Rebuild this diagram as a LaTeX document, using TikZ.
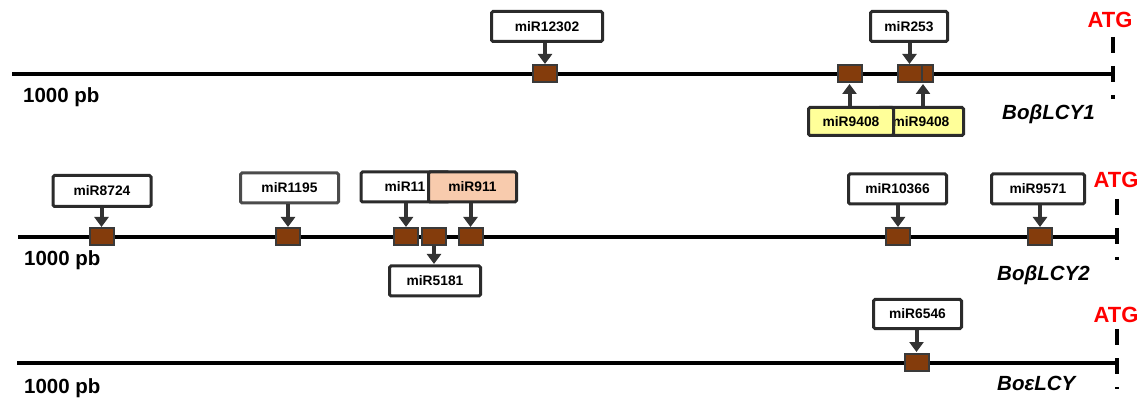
\documentclass[tikz,border=0pt]{standalone}
\usepackage{fontspec}
\setmainfont{Liberation Sans}
\usetikzlibrary{arrows.meta}
\definecolor{brn}{HTML}{843C0C}
\definecolor{bordc}{HTML}{2B2B2B}
\definecolor{sqborder}{HTML}{3A3A3A}
\definecolor{yel}{HTML}{FFFF99}
\definecolor{peach}{HTML}{F8CBAD}
\definecolor{arrc}{HTML}{333333}
\begin{document}
\begin{tikzpicture}[x=1pt,y=-1pt,
  mbox/.style={draw=bordc, line width=3pt, rounded corners=1.5pt, fill=white,
    minimum height=30pt, inner sep=0pt,
    font=\fontsize{13.8}{16}\selectfont\bfseries, text=black},
  ybox/.style={mbox, fill=yel},
  pbox/.style={mbox, fill=peach},
  sq/.style={draw=sqborder, line width=2pt, fill=brn, minimum width=24pt,
    minimum height=17pt, inner sep=0pt},
  arr/.style={draw=arrc, line width=4pt, -{Triangle[width=14pt,length=10pt]}, shorten >=0.5pt},
  dna/.style={line width=4pt, black},
  atgline/.style={line width=4pt, black, dash pattern=on 16pt off 13pt},
  scalelbl/.style={font=\fontsize{20.5}{24}\selectfont\bfseries, inner sep=0pt, anchor=base west},
  atg/.style={font=\fontsize{22}{26}\selectfont\bfseries, text=red, inner sep=0pt, anchor=base},
  gene/.style={font=\fontsize{20.5}{24}\selectfont\bfseries\itshape, inner sep=0pt, anchor=base west}
]
\useasboundingbox (0,0) rectangle (1144,398);

% ---------- Row 1: BoBLCY1 ----------
\coordinate (a1) at (12,74);
\coordinate (b1) at (1112.5,74);
\coordinate (t1) at (1112.5,37);
\coordinate (u1) at (1112.5,99.5);
\draw[dna] (a1) -- (b1);
\draw[atgline] (t1) -- (u1);

\node[sq] (s1a) at (545,74) {};
\node[sq] (s1b) at (849.5,74) {};
\node[sq] (s1d) at (921,74) {};
\node[sq] (s1c) at (909.5,74) {};

\node[mbox, minimum width=111pt] (m12302) at (547,26.5) {miR12302};
\node[mbox, minimum width=77pt] (m253) at (909,26.5) {miR253};
\node[ybox, minimum width=85pt, minimum height=28pt] (m9408b) at (921,121.5) {miR9408};
\node[ybox, minimum width=85pt, minimum height=28pt] (m9408a) at (851,121.5) {miR9408};

\draw[arr] (s1a.north |- m12302.south) -- (s1a.north);
\draw[arr] (s1c.north |- m253.south) -- (s1c.north);
\draw[arr] (s1b.south |- m9408a.north) -- (s1b.south);
\draw[arr] ([xshift=2pt]s1d.south |- m9408b.north) -- ([xshift=2pt]s1d.south);

\node[scalelbl] (pb1) at (23,103) {1000 pb};
\node[atg] (atg1) at (1110,28) {ATG};
\node[gene] (g1) at (1002,120) {Bo\char"03B2 LCY1};

% ---------- Row 2: BoBLCY2 ----------
\coordinate (a2) at (18,237);
\coordinate (b2) at (1117,237);
\coordinate (t2) at (1117,199);
\coordinate (u2) at (1117,260);
\draw[dna] (a2) -- (b2);
\draw[atgline] (t2) -- (u2);

\node[sq] (s2a) at (101.5,237) {};
\node[sq] (s2b) at (288,237) {};
\node[sq] (s2c) at (406,237) {};
\node[sq] (s2d) at (434,237) {};
\node[sq] (s2e) at (470.5,237) {};
\node[sq] (s2f) at (898,237) {};
\node[sq] (s2g) at (1040,237) {};

\node[mbox, minimum width=98pt, minimum height=31pt] (m8724) at (102,191) {miR8724};
\node[mbox, minimum width=98pt, draw=bordc!85] (m1195) at (289.5,188) {miR1195};
\node[mbox, minimum width=88pt] (m11) at (405,187) {miR11\hspace{6pt}};
\node[pbox, minimum width=88pt] (m911) at (472.5,187) {miR911};
\node[mbox, minimum width=98pt] (m10366) at (897.5,189) {miR10366};
\node[mbox, minimum width=93pt] (m9571) at (1038,189) {miR9571};
\node[mbox, minimum width=91pt] (m5181) at (435,281) {miR5181};

\draw[arr] (s2a.north |- m8724.south) -- (s2a.north);
\draw[arr] (s2b.north |- m1195.south) -- (s2b.north);
\draw[arr] (s2c.north |- m11.south) -- (s2c.north);
\draw[arr] (s2e.north |- m911.south) -- (s2e.north);
\draw[arr] (s2f.north |- m10366.south) -- (s2f.north);
\draw[arr] (s2g.north |- m9571.south) -- (s2g.north);
\draw[arr] (s2d.south) -- (s2d.south |- m5181.north);

\node[scalelbl] (pb2) at (24,266) {1000 pb};
\node[atg] (atg2) at (1116,188) {ATG};
\node[gene] (g2) at (997,280) {Bo\char"03B2 LCY2};

% ---------- Row 3: BoELCY ----------
\coordinate (a3) at (17,363);
\coordinate (b3) at (1117,363);
\coordinate (t3) at (1117,329);
\coordinate (u3) at (1117,389);
\draw[dna] (a3) -- (b3);
\draw[atgline] (t3) -- (u3);

\node[sq] (s3a) at (916.5,362) {};
\node[mbox, minimum width=88pt, minimum height=29pt] (m6546) at (917.5,314) {miR6546};
\draw[arr] (s3a.north |- m6546.south) -- (s3a.north);

\node[scalelbl] (pb3) at (24,393) {1000 pb};
\node[atg] (atg3) at (1116,323) {ATG};
\node[gene] (g3) at (997,390) {Bo\char"03B5 LCY};
\end{tikzpicture}
\end{document}
